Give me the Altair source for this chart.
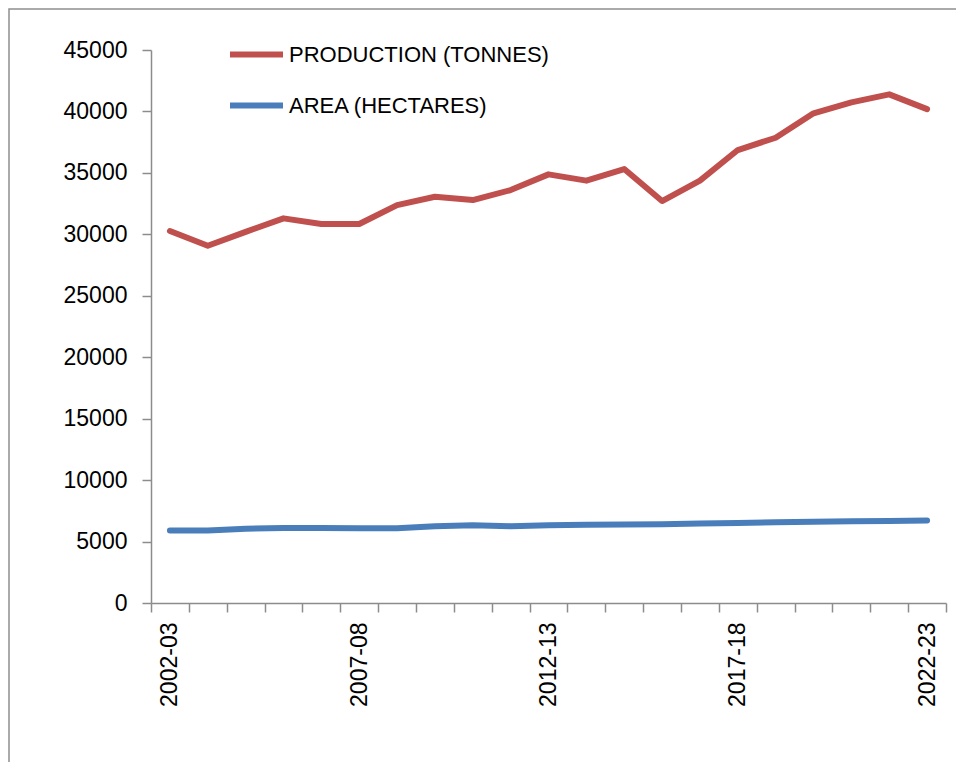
import json

import altair as alt
import pandas as pd

# Crop years (categories on the x axis)
years = [
    "2002-03", "2003-04", "2004-05", "2005-06", "2006-07", "2007-08",
    "2008-09", "2009-10", "2010-11", "2011-12", "2012-13", "2013-14",
    "2014-15", "2015-16", "2016-17", "2017-18", "2018-19", "2019-20",
    "2020-21", "2021-22", "2022-23",
]

# Production in tonnes
production = [
    30270, 29070, 30200, 31300, 30840, 30840, 32380, 33060, 32790, 33600,
    34880, 34370, 35310, 32710, 34370, 36860, 37860, 39850, 40740, 41390,
    40190,
]

# Area in hectares
area = [
    5900, 5900, 6050, 6100, 6100, 6080, 6080, 6250, 6330, 6250,
    6330, 6360, 6380, 6400, 6470, 6520, 6570, 6620, 6650, 6670,
    6720,
]

series_names = ["PRODUCTION (TONNES)", "AREA (HECTARES)"]
series_colors = ["#C0504D", "#4A7EBB"]

# Only every fifth year carries a label
shown_labels = ["2002-03", "2007-08", "2012-13", "2017-18", "2022-23"]
y_ticks = list(range(0, 45001, 5000))

rows = []
for name, values in zip(series_names, [production, area]):
    for yr, v in zip(years, values):
        rows.append({"year": yr, "series": name, "value": v})
df = pd.DataFrame(rows)

label_expr = (
    "indexof(" + json.dumps(shown_labels) + ", datum.value) >= 0 ? datum.label : ''"
)

axis_gray = "#8C8C8C"

lines = alt.Chart(df).mark_line(
    strokeWidth=6, strokeCap="round", strokeJoin="round"
).encode(
    x=alt.X(
        "year:O",
        sort=years,
        bandPosition=0.5,
        scale=alt.Scale(type="band", paddingInner=0, paddingOuter=0),
        axis=alt.Axis(
            title=None,
            tickBand="extent",
            labelAngle=270,
            labelExpr=label_expr,
            labelOverlap=False,
            labelFont="Liberation Sans",
            labelFontSize=23,
            labelColor="#000000",
            labelPadding=10,
            tickSize=9,
            tickColor=axis_gray,
            tickWidth=1.5,
            domainColor=axis_gray,
            domainWidth=1.5,
            grid=False,
        ),
    ),
    y=alt.Y(
        "value:Q",
        scale=alt.Scale(domain=[0, 45000], nice=False),
        axis=alt.Axis(
            title=None,
            values=y_ticks,
            format="d",
            grid=False,
            labelFont="Liberation Sans",
            labelFontSize=23,
            labelColor="#000000",
            labelPadding=15,
            tickSize=9,
            tickColor=axis_gray,
            tickWidth=1.5,
            domainColor=axis_gray,
            domainWidth=1.5,
        ),
    ),
    color=alt.Color(
        "series:N",
        sort=series_names,
        scale=alt.Scale(domain=series_names, range=series_colors),
        legend=alt.Legend(
            title=None,
            orient="none",
            legendX=76,
            legendY=-25,
            padding=0,
            rowPadding=9,
            symbolType="stroke",
            symbolSize=2809,
            symbolStrokeWidth=6,
            labelFont="Liberation Sans",
            labelFontSize=22,
            labelColor="#000000",
            labelOffset=3,
            labelLimit=0,
        ),
    ),
)

# Outer chart-area border
frame = alt.Chart(pd.DataFrame({"k": [0]})).mark_rect(
    filled=False, stroke="#8E8E8E", strokeWidth=1.5
).encode(
    x=alt.value(-142),
    x2=alt.value(830),
    y=alt.value(-41),
    y2=alt.value(740),
)

chart = alt.layer(frame, lines).properties(
    width=795,
    height=553,
    padding={"left": 151, "top": 50, "right": 10, "bottom": 159},
    autosize=alt.AutoSizeParams(type="none"),
).configure_view(strokeWidth=0)

chart.save("out.html", embed_options={"renderer": "svg", "actions": False})
